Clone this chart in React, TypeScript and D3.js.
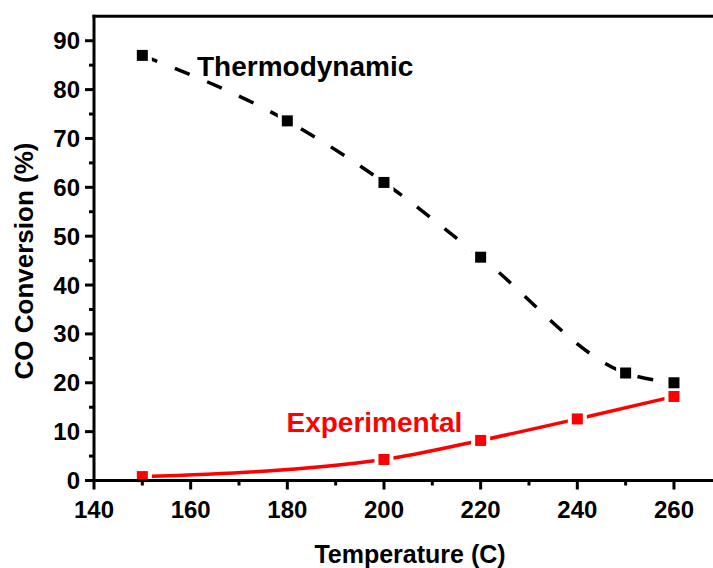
import React from "react";
import * as d3 from "d3";

const thermoTemps = [150, 180, 200, 220, 250, 260];
const thermoValues = [87.0, 73.6, 61.0, 45.7, 22.0, 20.0];
const expTemps = [150, 200, 220, 240, 260];
const expValues = [0.8, 4.3, 8.2, 12.6, 17.2];
const xTicks = [140, 160, 180, 200, 220, 240, 260];
const xMinorTicks = [150, 170, 190, 210, 230, 250];
const yTicks = [0, 10, 20, 30, 40, 50, 60, 70, 80, 90];
const yMinorTicks = [5, 15, 25, 35, 45, 55, 65, 75, 85];

const W = 713;
const H = 568;
const FONT = "'Liberation Sans', Arial, sans-serif";

export default function App() {
  const x = d3.scaleLinear().domain([140, 270]).range([94, 722.3]);
  const y = d3.scaleLinear().domain([0, 95]).range([480.5, 16.3]);

  const line = d3
    .line<[number, number]>()
    .x((d) => x(d[0]))
    .y((d) => y(d[1]))
    .curve(d3.curveMonotoneX);

  const thermo: [number, number][] = thermoTemps.map((t, i) => [t, thermoValues[i]]);
  const exp: [number, number][] = expTemps.map((t, i) => [t, expValues[i]]);
  const ms = 11;
  const gap = 19;

  return (
    <svg width={W} height={H} style={{ position: "absolute", left: 0, top: 0, background: "#fff" }}>
      <defs>
        <mask id="mThermo" maskUnits="userSpaceOnUse" x={0} y={0} width={W} height={H}>
          <rect x={0} y={0} width={W} height={H} fill="#fff" />
          {thermo.map((d, i) => (
            <rect key={i} x={x(d[0]) - gap / 2} y={y(d[1]) - gap / 2} width={gap} height={gap} fill="#000" />
          ))}
        </mask>
        <mask id="mExp" maskUnits="userSpaceOnUse" x={0} y={0} width={W} height={H}>
          <rect x={0} y={0} width={W} height={H} fill="#fff" />
          {exp.map((d, i) => (
            <rect key={i} x={x(d[0]) - gap / 2} y={y(d[1]) - gap / 2} width={gap} height={gap} fill="#000" />
          ))}
        </mask>
      </defs>

      {/* lines */}
      <path d={line(thermo) || ""} fill="none" stroke="#000" strokeWidth={3.5} strokeDasharray="16 19" mask="url(#mThermo)" />
      <path d={line(exp) || ""} fill="none" stroke="#ff0000" strokeWidth={3.5} mask="url(#mExp)" />

      {/* markers */}
      {thermo.map((d, i) => (
        <rect key={"t" + i} x={x(d[0]) - ms / 2} y={y(d[1]) - ms / 2} width={ms} height={ms} fill="#000" />
      ))}
      {exp.map((d, i) => (
        <rect key={"e" + i} x={x(d[0]) - ms / 2} y={y(d[1]) - ms / 2} width={ms} height={ms} fill="#ff0000" />
      ))}

      {/* axes frame */}
      <line x1={x(140)} x2={W} y1={y(0)} y2={y(0)} stroke="#000" strokeWidth={3} />
      <line x1={x(140) - 1.5} x2={W} y1={y(95)} y2={y(95)} stroke="#000" strokeWidth={3} />
      <line x1={x(140)} x2={x(140)} y1={y(95) - 1.5} y2={y(0) + 1.5} stroke="#000" strokeWidth={3} />

      {/* x ticks */}
      {xTicks.map((t) => (
        <g key={"xt" + t}>
          <line x1={x(t)} x2={x(t)} y1={y(0)} y2={y(0) + 9} stroke="#000" strokeWidth={3} />
          <text x={x(t)} y={518} textAnchor="middle" fontFamily={FONT} fontWeight="bold" fontSize={24} fill="#000">
            {t}
          </text>
        </g>
      ))}
      {xMinorTicks.map((t) => (
        <line key={"xm" + t} x1={x(t)} x2={x(t)} y1={y(0)} y2={y(0) + 5} stroke="#000" strokeWidth={3} />
      ))}

      {/* y ticks */}
      {yTicks.map((t) => (
        <g key={"yt" + t}>
          <line x1={x(140) - 9} x2={x(140)} y1={y(t)} y2={y(t)} stroke="#000" strokeWidth={3} />
          <text x={80} y={y(t) + 8.5} textAnchor="end" fontFamily={FONT} fontWeight="bold" fontSize={24} fill="#000">
            {t}
          </text>
        </g>
      ))}
      {yMinorTicks.map((t) => (
        <line key={"ym" + t} x1={x(140) - 5} x2={x(140)} y1={y(t)} y2={y(t)} stroke="#000" strokeWidth={3} />
      ))}

      {/* series labels */}
      <text x={197} y={75.5} fontFamily={FONT} fontWeight="bold" fontSize={28} fill="#000">
        Thermodynamic
      </text>
      <text x={286.5} y={431.5} fontFamily={FONT} fontWeight="bold" fontSize={28} fill="#ff0000">
        Experimental
      </text>

      {/* axis titles */}
      <text x={410} y={563} textAnchor="middle" fontFamily={FONT} fontWeight="bold" fontSize={25} fill="#000">
        Temperature (C)
      </text>
      <text
        transform="translate(33,261) rotate(-90)"
        textAnchor="middle"
        fontFamily={FONT}
        fontWeight="bold"
        fontSize={26}
        fill="#000"
      >
        CO Conversion (%)
      </text>
    </svg>
  );
}
